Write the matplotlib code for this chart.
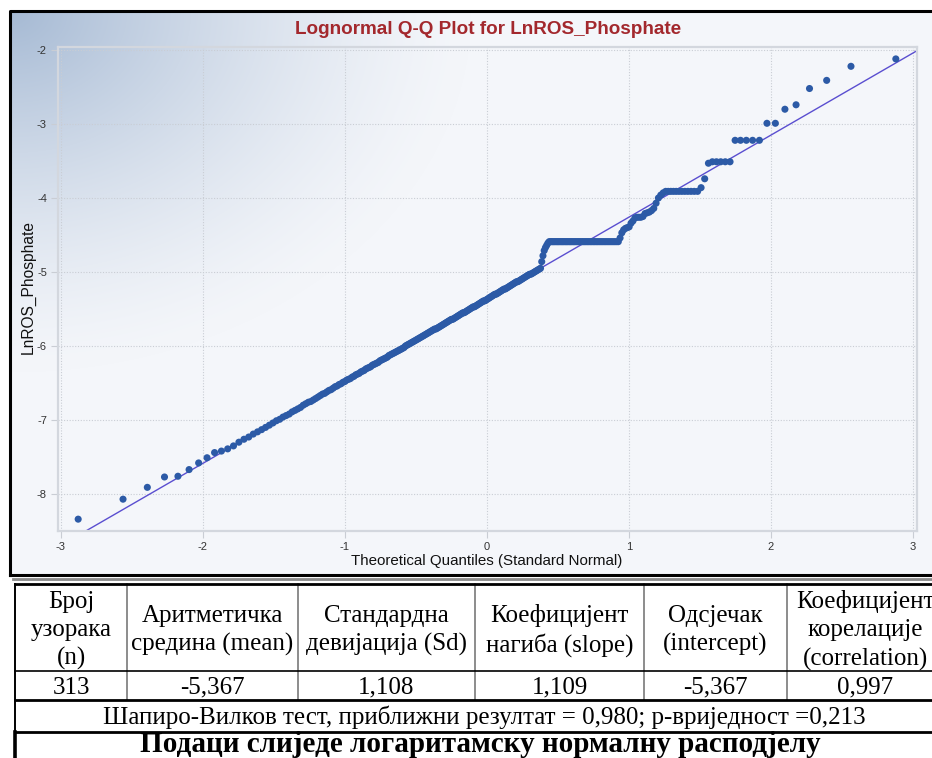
import numpy as np
import matplotlib.pyplot as plt
from statistics import NormalDist

plt.rcParams["axes.unicode_minus"] = False

# sorted LnROS_Phosphate values (313 samples)
sample = [
    -8.34, -8.07, -7.91, -7.77, -7.76, -7.67, -7.58, -7.51, -7.44, -7.42,
    -7.39, -7.35, -7.30, -7.26, -7.23, -7.19, -7.16, -7.13, -7.10, -7.07,
    -7.04, -7.01, -6.99, -6.96, -6.94, -6.92, -6.89, -6.87, -6.85, -6.83,
    -6.80, -6.78, -6.76, -6.75, -6.73, -6.71, -6.69, -6.67, -6.65, -6.64,
    -6.62, -6.60, -6.59, -6.57, -6.55, -6.54, -6.52, -6.51, -6.49, -6.48,
    -6.46, -6.45, -6.44, -6.42, -6.41, -6.39, -6.38, -6.37, -6.35, -6.34,
    -6.33, -6.31, -6.30, -6.29, -6.28, -6.26, -6.25, -6.24, -6.23, -6.22,
    -6.20, -6.19, -6.18, -6.17, -6.16, -6.15, -6.13, -6.12, -6.11, -6.10,
    -6.09, -6.08, -6.07, -6.06, -6.05, -6.04, -6.03, -6.02, -6.00, -5.99,
    -5.98, -5.97, -5.96, -5.95, -5.94, -5.93, -5.92, -5.91, -5.90, -5.89,
    -5.88, -5.87, -5.86, -5.85, -5.84, -5.83, -5.82, -5.81, -5.80, -5.79,
    -5.78, -5.77, -5.77, -5.76, -5.75, -5.74, -5.73, -5.72, -5.71, -5.70,
    -5.69, -5.68, -5.67, -5.66, -5.65, -5.64, -5.64, -5.63, -5.62, -5.61,
    -5.60, -5.59, -5.58, -5.57, -5.56, -5.55, -5.55, -5.54, -5.53, -5.52,
    -5.51, -5.50, -5.49, -5.48, -5.47, -5.47, -5.46, -5.45, -5.44, -5.43,
    -5.42, -5.41, -5.40, -5.39, -5.39, -5.38, -5.37, -5.36, -5.35, -5.34,
    -5.33, -5.32, -5.31, -5.30, -5.30, -5.29, -5.28, -5.27, -5.26, -5.25,
    -5.24, -5.23, -5.23, -5.22, -5.21, -5.20, -5.19, -5.18, -5.17, -5.16,
    -5.15, -5.14, -5.13, -5.13, -5.12, -5.11, -5.10, -5.09, -5.08, -5.07,
    -5.06, -5.05, -5.04, -5.03, -5.03, -5.02, -5.01, -5.00, -4.99, -4.98,
    -4.97, -4.96, -4.95,
    -4.86, -4.78, -4.71, -4.67, -4.64, -4.61,
] + [-4.59] * 49 + [
    -4.54, -4.47, -4.43, -4.41, -4.40, -4.39, -4.34, -4.31, -4.27, -4.26,
    -4.26, -4.26, -4.25, -4.21, -4.20, -4.19, -4.17, -4.14, -4.07, -4.00,
    -3.96, -3.93,
] + [-3.91] * 12 + [-3.86, -3.74, -3.53] + [-3.51] * 5 + [-3.22] * 5 + [
    -2.99, -2.99, -2.80, -2.74, -2.52, -2.41, -2.22, -2.12,
]

slope = 1.109
intercept = -5.367

x_ticks = [-3, -2, -1, 0, 1, 2, 3]
y_ticks = [-8, -7, -6, -5, -4, -3, -2]

header_labels = ["Број\nузорака\n(n)", "Аритметичка\nсредина (mean)",
                 "Стандардна\nдевијација (Sd)", "Коефицијент\nнагиба (slope)",
                 "Одсјечак\n(intercept)", "Коефицијент\nкорелације\n(correlation)"]
stat_values = [313, -5.367, 1.108, 1.109, -5.367, 0.997]
sw_stat = 0.980
sw_p = 0.213
conclusion = "Подаци слиједе логаритамску нормалну расподјелу"


def fmt(v):
    if isinstance(v, int):
        return str(v)
    return f"{v:.3f}".replace(".", ",")


# Blom plotting positions for the normal scores
n = len(sample)
nd = NormalDist()
theo = [nd.inv_cdf((i - 0.375) / (n + 0.25)) for i in range(1, n + 1)]

W, H = 932, 758
fig = plt.figure(figsize=(W / 100, H / 100), dpi=100)

# page layer in pixel coords: panel gradient, frame, table
bg = fig.add_axes([0, 0, 1, 1])
bg.set_xlim(0, W)
bg.set_ylim(H, 0)
bg.axis("off")

yy, xx = np.mgrid[0:562, 0:925]
d = np.sqrt((xx / 460.0) ** 2 + (yy / 360.0) ** 2)
t = np.clip(1 - d, 0, 1) ** 1.4
c_light = np.array([244, 246, 250]) / 255
c_dark = np.array([166, 186, 212]) / 255
img = c_light + (c_dark - c_light) * t[..., None]
bg.imshow(img, extent=(11, 936, 574, 12), aspect="auto", zorder=0)

bg.plot([10, 10, 940], [575, 11, 11], color="black", lw=2.2, zorder=2)
bg.plot([10, 940], [574.5, 574.5], color="black", lw=2.2, zorder=2)
bg.plot([13, 940], [578.5, 578.5], color="#8a8a8a", lw=2, zorder=1)

# table
cols = [15, 127, 298, 475, 644, 787, 944]
r_top, r_head, r_val, r_sw, r_end = 584, 671, 700, 732, 762
for xc in cols[1:-1]:
    bg.plot([xc, xc], [r_top, r_val], color="#6e6e6e", lw=1.1)
bg.plot([cols[0], cols[0]], [r_top, r_sw], color="black", lw=1.4)
bg.plot([cols[0], cols[0]], [r_sw, r_end], color="black", lw=2.6)
bg.plot([cols[0], cols[-1]], [r_top, r_top], color="black", lw=2.0)
bg.plot([cols[0], cols[-1]], [r_head, r_head], color="black", lw=1.2)
bg.plot([cols[0], cols[-1]], [r_val, r_val], color="black", lw=2.0)
bg.plot([cols[0], cols[-1]], [r_sw, r_sw], color="black", lw=2.0)

serif = "Liberation Serif"
fs_tab = 18
for i, lab in enumerate(header_labels):
    xc = (cols[i] + cols[i + 1]) / 2
    bg.text(xc, (r_top + r_head) / 2 + 3, lab, ha="center", va="center",
            fontsize=fs_tab, family=serif, linespacing=1.36)
    bg.text(xc, (r_head + r_val) / 2 + 2, fmt(stat_values[i]), ha="center",
            va="center", fontsize=fs_tab, family=serif)
bg.text(484, (r_val + r_sw) / 2 + 1,
        f"Шапиро-Вилков тест, приближни резултат = {fmt(sw_stat)}; p-вриједност ={fmt(sw_p)}",
        ha="center", va="center", fontsize=fs_tab, family=serif)
bg.text(480, 752, conclusion, ha="center", va="baseline", fontsize=21,
        family=serif, weight="bold")

# Q-Q plot
ax = fig.add_axes([58 / W, 1 - 531 / H, (917 - 58) / W, (531 - 47) / H])
ax.set_facecolor("none")
ax.set_xlim(-3.021, 3.028)
ax.set_ylim(-8.50, -1.959)
ax.set_xticks(x_ticks)
ax.set_yticks(y_ticks)
ax.grid(True, color="#c9cdd4", lw=0.8, ls=(0, (1, 1.5)))
ax.set_axisbelow(True)
for s in ax.spines.values():
    s.set_color("#d3d7de")
    s.set_linewidth(1.6)
ax.tick_params(length=5, color="#c9cdd4", labelsize=8, labelcolor="#333333", pad=3)
for lab in ax.get_xticklabels() + ax.get_yticklabels():
    lab.set_family("Liberation Sans")

ax.axline((0, intercept), slope=slope, color="#5a4ed0", lw=1.0, zorder=2)
ax.scatter(theo, sample, s=26, color="#2c5aa6", edgecolors="none", zorder=3)

fig.text(488 / W, 1 - 30 / H, "Lognormal Q-Q Plot for LnROS_Phosphate",
         ha="center", va="center", fontsize=13.6, weight="bold",
         color="#a3282d", family="Liberation Sans")
fig.text(487 / W, 1 - 561 / H, "Theoretical Quantiles (Standard Normal)",
         ha="center", va="center", fontsize=10.9, color="#111111",
         family="Liberation Sans")
fig.text(28 / W, 1 - 287 / H, "LnROS_Phosphate", ha="center", va="center",
         rotation=90, fontsize=11.2, color="#111111", family="Liberation Sans")

fig.savefig("out.png", dpi=100)
